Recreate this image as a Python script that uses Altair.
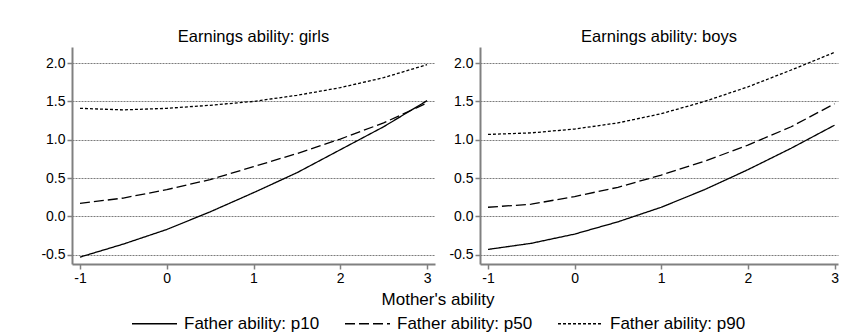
import altair as alt
import pandas as pd

mother = [-1.0, -0.5, 0.0, 0.5, 1.0, 1.5, 2.0, 2.5, 3.0]

girls_p10 = [-0.53, -0.36, -0.17, 0.06, 0.31, 0.57, 0.87, 1.17, 1.51]
girls_p50 = [0.17, 0.24, 0.35, 0.48, 0.65, 0.82, 1.01, 1.22, 1.48]
girls_p90 = [1.41, 1.39, 1.41, 1.45, 1.50, 1.58, 1.68, 1.81, 1.98]

boys_p10 = [-0.43, -0.35, -0.23, -0.07, 0.12, 0.35, 0.61, 0.89, 1.19]
boys_p50 = [0.12, 0.16, 0.26, 0.38, 0.54, 0.72, 0.93, 1.17, 1.47]
boys_p90 = [1.07, 1.09, 1.14, 1.22, 1.34, 1.50, 1.69, 1.91, 2.14]

series_names = ["Father ability: p10", "Father ability: p50", "Father ability: p90"]
panel_titles = ["Earnings ability: girls", "Earnings ability: boys"]
x_ticks = [-1, 0, 1, 2, 3]
y_ticks = [-0.5, 0.0, 0.5, 1.0, 1.5, 2.0]

rows = []
for panel, groups in zip(panel_titles, [[girls_p10, girls_p50, girls_p90],
                                        [boys_p10, boys_p50, boys_p90]]):
    for name, vals in zip(series_names, groups):
        for m, v in zip(mother, vals):
            rows.append({"panel": panel, "mother": m, "value": v, "father": name})
df = pd.DataFrame(rows)

FONT = "Liberation Sans"


def panel_chart(title, width, x_max):
    return (
        alt.Chart(df[df["panel"] == title])
        .mark_line(color="black", strokeWidth=1.3)
        .encode(
            x=alt.X(
                "mother:Q",
                scale=alt.Scale(domain=[-1.092, x_max], nice=False, zero=False),
                axis=alt.Axis(values=x_ticks, title=None, grid=False, format="d",
                              labelExpr="replace(datum.label, '\u2212', '-')"),
            ),
            y=alt.Y(
                "value:Q",
                scale=alt.Scale(domain=[-0.62, 2.21], nice=False, zero=False),
                axis=alt.Axis(values=y_ticks, title=None, grid=True, format=".1f",
                              labelExpr="replace(datum.label, '\u2212', '-')"),
            ),
            strokeDash=alt.StrokeDash(
                "father:N",
                scale=alt.Scale(domain=series_names, range=[[1, 0], [10, 4], [3, 2]]),
                legend=alt.Legend(
                    title="Mother's ability",
                    orient="none",
                    direction="horizontal",
                    legendX=59,
                    legendY=245,
                    titleAnchor="middle",
                    titleOrient="top",
                ),
            ),
            detail="father:N",
        )
        .properties(
            width=width,
            height=217,
            title=alt.TitleParams(title, fontSize=16.5, fontWeight="normal", font=FONT,
                                  color="black", offset=2),
        )
    )


chart = (
    alt.hconcat(
        panel_chart(panel_titles[0], 363, 3.092),
        panel_chart(panel_titles[1], 358, 3.04),
        spacing=13,
    )
    .resolve_scale(strokeDash="shared")
    .properties(padding={"left": 32, "top": 20, "right": 0, "bottom": 0})
    .configure_view(strokeWidth=0)
    .configure_axis(
        labelFont=FONT,
        labelFontSize=14,
        labelColor="black",
        domainColor="#808080",
        domainWidth=2,
        tickColor="#808080",
        tickWidth=1.5,
        tickSize=5,
        labelPadding=2,
        gridColor="#444444",
        gridDash=[2, 1],
        gridWidth=0.7,
    )
    .configure_legend(
        labelFont=FONT,
        labelFontSize=17,
        labelColor="black",
        titleFont=FONT,
        titleFontSize=17,
        titleFontWeight="normal",
        titleColor="black",
        titlePadding=-9,
        symbolType="stroke",
        symbolSize=2025,
        symbolStrokeWidth=1.3,
        symbolStrokeColor="black",
        columnPadding=22,
        labelOffset=6,
        labelLimit=300,
    )
)

chart.save("out.html", embed_options={"renderer": "svg", "actions": False})
